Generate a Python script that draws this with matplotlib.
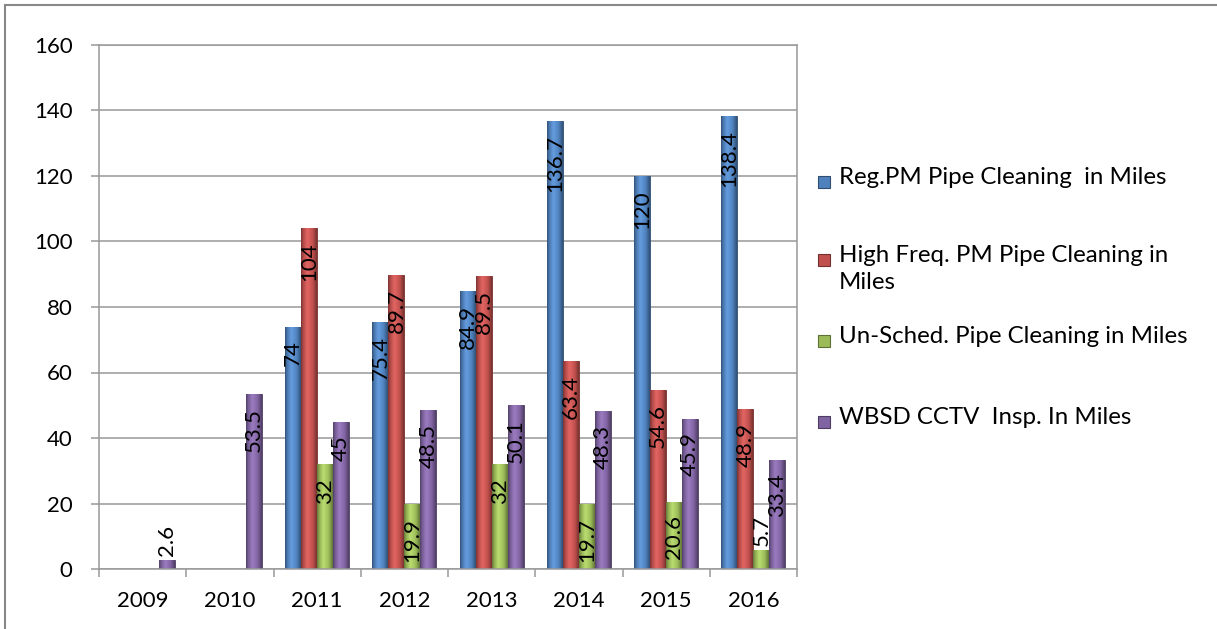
import numpy as np
import matplotlib
matplotlib.use("Agg")
import matplotlib.pyplot as plt
from matplotlib.colors import to_rgb, LinearSegmentedColormap
from matplotlib.patches import Rectangle
from matplotlib.lines import Line2D

plt.rcParams['font.family'] = ['Lato', 'DejaVu Sans']

# data
years = ['2009', '2010', '2011', '2012', '2013', '2014', '2015', '2016']
reg_pm = [0, 0, 74, 75.4, 84.9, 136.7, 120, 138.4]
high_freq = [0, 0, 104, 89.7, 89.5, 63.4, 54.6, 48.9]
un_sched = [0, 0, 32, 19.9, 32, 19.7, 20.6, 5.7]
cctv = [2.6, 53.5, 45, 48.5, 50.1, 48.3, 45.9, 33.4]

series = [reg_pm, high_freq, un_sched, cctv]
legend_labels = ['Reg.PM Pipe Cleaning  in Miles',
                 'High Freq. PM Pipe Cleaning in\nMiles',
                 'Un-Sched. Pipe Cleaning in Miles',
                 'WBSD CCTV  Insp. In Miles']
colors = ['#4F81BD', '#C0504D', '#9BBB59', '#8064A2']

W, H = 1217, 629
fig = plt.figure(figsize=(W / 100, H / 100), dpi=100)
ax = fig.add_axes([99 / W, 1 - 569 / H, (797 - 99) / W, (569 - 45) / H])

grid_col = '#999999'


def bevel_cmap(c):
    base = np.array(to_rgb(c))
    dark = base * 0.62
    light = np.clip(base * 1.12 + 0.05, 0, 1)
    return LinearSegmentedColormap.from_list(
        'b', [(0, dark), (0.12, base * 0.9), (0.4, light), (0.75, base), (1, dark)])


x = np.arange(len(years))
bw = 0.183
texts = []
for i, (vals, c) in enumerate(zip(series, colors)):
    offs = (i - 1.5) * bw
    bars = ax.bar(x + offs, vals, width=bw, color=c, edgecolor=np.array(to_rgb(c)) * 0.6,
                  linewidth=0.6, zorder=2)
    cm = bevel_cmap(c)
    grad = np.linspace(0, 1, 64).reshape(1, -1)
    for b, v in zip(bars, vals):
        if v <= 0:
            continue
        x0 = b.get_x()
        im = ax.imshow(grad, cmap=cm, extent=(x0, x0 + bw, 0, v), aspect='auto',
                       zorder=2.5, interpolation='bicubic')
        im.set_clip_path(b)
        t = ax.annotate(f'{v:g}', (x0 + bw / 2, v), xytext=(0, -10), textcoords='offset points',
                        rotation=90, ha='center', va='top', fontsize=16, color='black', zorder=4)
        texts.append((t, v))

ax.set_xlim(-0.5, len(years) - 0.5)
ax.set_ylim(0, 160)
ax.set_yticks(np.arange(0, 161, 20))
ax.set_xticks(x)
ax.set_xticklabels(years)
ax.set_xticks(np.arange(-0.5, len(years)), minor=True)
ax.tick_params(axis='x', which='major', length=0, pad=16, labelsize=16)
ax.tick_params(axis='x', which='minor', length=6, color=grid_col, width=1.1)
ax.tick_params(axis='y', length=6, color=grid_col, width=1.1, pad=13, labelsize=16)
ax.yaxis.grid(True, color=grid_col, linewidth=1.1)
ax.set_axisbelow(True)
for s in ax.spines.values():
    s.set_color(grid_col)
    s.set_linewidth(1.1)

# labels that do not fit inside go above the bar
fig.canvas.draw()
r = fig.canvas.get_renderer()
y0_px = ax.transData.transform((0, 0))[1]
for t, v in texts:
    bb = t.get_window_extent(r)
    if bb.y0 < y0_px + 2:
        t.set_va('bottom')
        t.xyann = (0, 3)

# legend drawn by hand
leg_y = [182, 260, 341, 422]
for lab, c, yy in zip(legend_labels, colors, leg_y):
    fig.add_artist(Rectangle((818 / W, 1 - (yy + 6) / H), 12 / W, 12 / H, transform=fig.transFigure,
                             facecolor=c, edgecolor=np.array(to_rgb(c)) * 0.6, linewidth=0.8))
    fig.text(839 / W, 1 - (yy - 15) / H, lab, ha='left', va='top', fontsize=17.3, linespacing=1.35)

# outer frame
fig.add_artist(Line2D([5 / W, 5 / W], [0, 1 - 5 / H], color='#888888', linewidth=1.5))
fig.add_artist(Line2D([5 / W, 1], [1 - 5 / H, 1 - 5 / H], color='#888888', linewidth=1.5))

fig.savefig('out.png', dpi=100)
